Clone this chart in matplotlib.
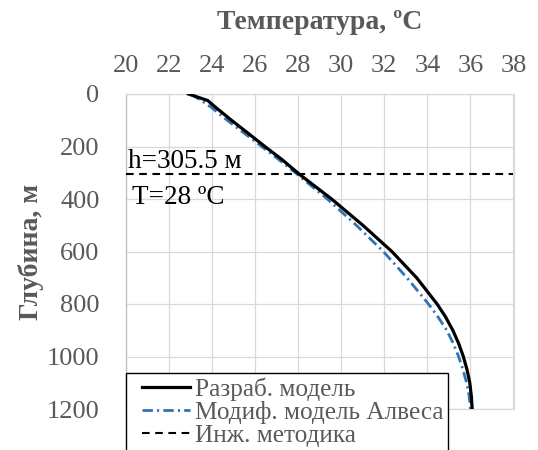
import matplotlib
matplotlib.use("Agg")
import matplotlib.pyplot as plt
from matplotlib.lines import Line2D
from matplotlib.legend_handler import HandlerLine2D

plt.rcParams['font.family'] = ['Liberation Serif', 'DejaVu Serif']
plt.rcParams['lines.scale_dashes'] = False

# depth, m
depth_model = [0, 25, 50, 100, 150, 200, 250, 305.5, 400, 500, 600, 700, 800, 850, 900, 950, 1000, 1050, 1100, 1150, 1200]
# developed model, temperature degC
temp_model = [22.9, 23.8, 24.15, 24.9, 25.68, 26.45, 27.25, 28.05, 29.55, 31.0, 32.35, 33.5, 34.45, 34.85, 35.18, 35.45, 35.67, 35.84, 35.97, 36.04, 36.08]

depth_alves = [0, 25, 50, 100, 150, 200, 250, 305.5, 400, 500, 600, 700, 800, 850, 900, 950, 1000, 1050, 1100, 1150, 1200]
# modified Alves model
temp_alves = [23.0, 23.5, 23.95, 24.7, 25.5, 26.3, 27.1, 27.95, 29.35, 30.7, 31.95, 33.05, 34.05, 34.5, 34.9, 35.2, 35.45, 35.65, 35.82, 35.94, 36.0]

# engineering method: depth where T = 28 degC
h_eng = 305.5
T_eng = 28

xticks = [20, 22, 24, 26, 28, 30, 32, 34, 36, 38]
yticks = [0, 200, 400, 600, 800, 1000, 1200]

gray = '#595959'
blue = '#2E75B6'

fig = plt.figure(figsize=(5.38, 4.5), dpi=100)
ax = fig.add_axes([126 / 538, 1 - 409 / 450, (513.5 - 126) / 538, (409 - 94) / 450])

ax.plot(temp_model, depth_model, color='black', lw=2.3, label='Разраб. модель', zorder=4)
ax.plot(temp_alves, depth_alves, color=blue, lw=2.0, dashes=(7.5, 3, 1.5, 3),
        label='Модиф. модель Алвеса', zorder=3)
ax.plot([xticks[0], xticks[-1]], [h_eng, h_eng], color='black', lw=1.5, dashes=(5.5, 4),
        label='Инж. методика', zorder=3)

ax.text(20.1, h_eng - 23, 'h=%s м' % h_eng, fontsize=19.5, color='black', va='baseline', ha='left')
ax.text(20.28, 418, 'T=%d ºC' % T_eng, fontsize=19.5, color='black', va='baseline', ha='left')

ax.set_xlim(xticks[0], xticks[-1])
ax.set_ylim(yticks[-1], yticks[0])
ax.set_xticks(xticks)
ax.set_yticks(yticks)
ax.xaxis.tick_top()
ax.xaxis.set_label_position('top')
ax.tick_params(axis='both', length=0, labelsize=19, labelcolor=gray)
ax.tick_params(axis='x', pad=12)
ax.tick_params(axis='y', pad=19)

ax.set_xlabel('Температура, ºC', fontsize=20, fontweight='bold', color=gray, labelpad=19)
ax.set_ylabel('Глубина, м', fontsize=20, fontweight='bold', color=gray, labelpad=2)

ax.grid(True, color='#D9D9D9', lw=0.9, zorder=0)
for s in ax.spines.values():
    s.set_color('#D9D9D9')
    s.set_linewidth(0.9)
ax.spines['left'].set_color('#BFBFBF')

leg = ax.legend(loc='upper left', bbox_to_anchor=(126 / 538, 1 - 372.7 / 450),
                bbox_transform=fig.transFigure, fontsize=18.2, frameon=True, fancybox=False,
                framealpha=1, edgecolor='black', handlelength=2.35, handletextpad=0.16,
                borderpad=0.2, labelspacing=0.0, borderaxespad=0,
                handler_map={Line2D: HandlerLine2D(xpad=0.45)})
leg.get_frame().set_linewidth(1.0)
for t in leg.get_texts():
    t.set_color(gray)

fig.savefig('out.png', dpi=100)
